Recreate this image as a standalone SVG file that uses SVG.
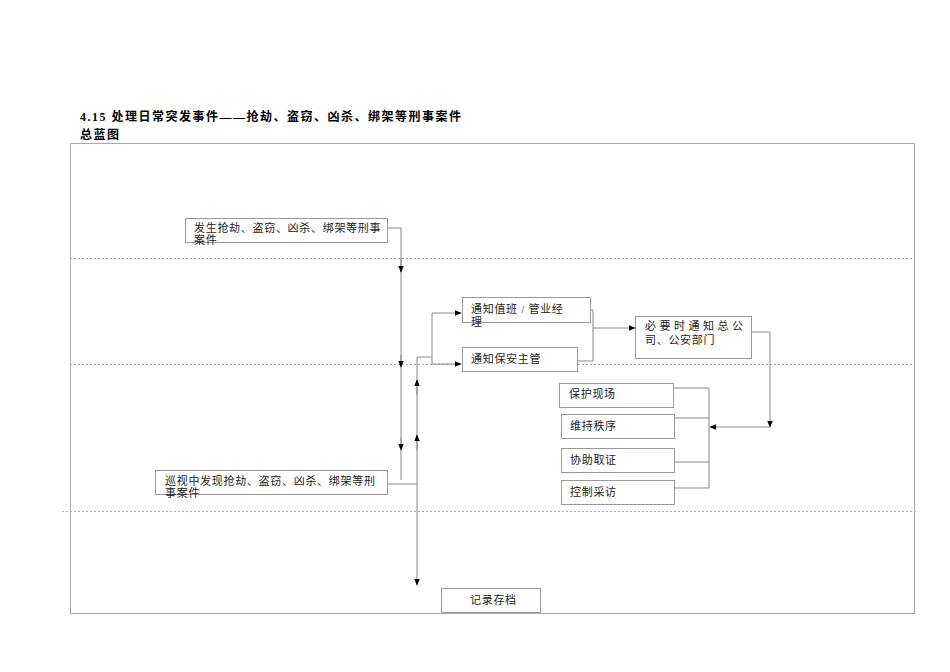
<svg xmlns="http://www.w3.org/2000/svg" width="950" height="672" viewBox="0 0 950 672">
<style>
text{font-family:"Liberation Serif","Noto Sans CJK SC",serif;font-size:11px;fill:#222;letter-spacing:0.7px}
.t{font-size:12px;font-weight:bold;fill:#000;letter-spacing:1.5px}
.w{letter-spacing:3.5px}
.b{fill:#fff;stroke:#999;stroke-width:1}
.c{fill:none;stroke:#888;stroke-width:1}
.d{stroke:#aaa;stroke-width:1;stroke-dasharray:2,2}
</style>
<defs><marker id="a" viewBox="0 0 10 10" refX="9" refY="5" markerWidth="7" markerHeight="7" orient="auto"><path d="M0,1L10,5L0,9z" fill="#000"/></marker></defs>
<rect width="950" height="672" fill="#fff"/>
<text class="t" x="80" y="121">4.15 处理日常突发事件——抢劫、盗窃、凶杀、绑架等刑事案件</text>
<text class="t" x="80" y="139">总蓝图</text>
<rect x="70.5" y="143.5" width="844" height="470" fill="none" stroke="#aaa"/>
<line class="d" x1="70" y1="258.5" x2="914" y2="258.5"/>
<line class="d" x1="70" y1="364.5" x2="914" y2="364.5"/>
<line class="d" x1="62" y1="511.5" x2="916" y2="511.5"/>
<g id="connectors">
<path class="c" d="M387,228H401V480"/>
<path class="c" d="M401,258V272" marker-end="url(#a)"/>
<path class="c" d="M401,355V367" marker-end="url(#a)"/>
<path class="c" d="M401,438V450" marker-end="url(#a)"/>
<path class="c" d="M387,484H417"/>
<path class="c" d="M417,357V585" marker-end="url(#a)"/>
<path class="c" d="M417,395V380" marker-end="url(#a)"/>
<path class="c" d="M417,450V435" marker-end="url(#a)"/>
<path class="c" d="M417,357H432"/>
<path class="c" d="M432,364V313H461" marker-end="url(#a)"/>
<path class="c" d="M432,364H461" marker-end="url(#a)"/>
<path class="c" d="M590,310H593V361H577"/>
<path class="c" d="M593,328H635" marker-end="url(#a)"/>
<path class="c" d="M751,332H770V427" marker-end="url(#a)"/>
<path class="c" d="M770,427H710" marker-end="url(#a)"/>
<path class="c" d="M673,388H709V488H674M674,418H709M674,462H709"/>
</g>
<g id="n1"><rect class="b" x="185.5" y="218.5" width="202" height="24"/><text x="194" y="232">发生抢劫、盗窃、凶杀、绑架等刑事</text><text x="194" y="244">案件</text></g>
<g id="n2"><rect class="b" x="155.5" y="470.5" width="232" height="24"/><text x="165" y="485">巡视中发现抢劫、盗窃、凶杀、绑架等刑</text><text x="165" y="497">事案件</text></g>
<g id="n3"><rect class="b" x="462.5" y="297.5" width="128" height="25"/><text x="471" y="313">通知值班 / 管业经</text><text x="471" y="326">理</text></g>
<g id="n4"><rect class="b" x="462.5" y="347.5" width="115" height="24"/><text x="471" y="363">通知保安主管</text></g>
<g id="n5"><rect class="b" x="635.5" y="316.5" width="116" height="42"/><text class="w" x="645" y="330">必要时通知总公</text><text x="645" y="344">司、公安部门</text></g>
<g id="n6"><rect class="b" x="559.5" y="383.5" width="114" height="24"/><text x="569" y="398">保护现场</text></g>
<g id="n7"><rect class="b" x="561.5" y="414.5" width="113" height="24"/><text x="570" y="430">维持秩序</text></g>
<g id="n8"><rect class="b" x="561.5" y="448.5" width="113" height="24"/><text x="570" y="464">协助取证</text></g>
<g id="n9"><rect class="b" x="561.5" y="480.5" width="113" height="24"/><text x="570" y="496">控制采访</text></g>
<g id="n10"><rect class="b" x="441.5" y="588.5" width="99" height="24"/><text x="470" y="604">记录存档</text></g>
</svg>
